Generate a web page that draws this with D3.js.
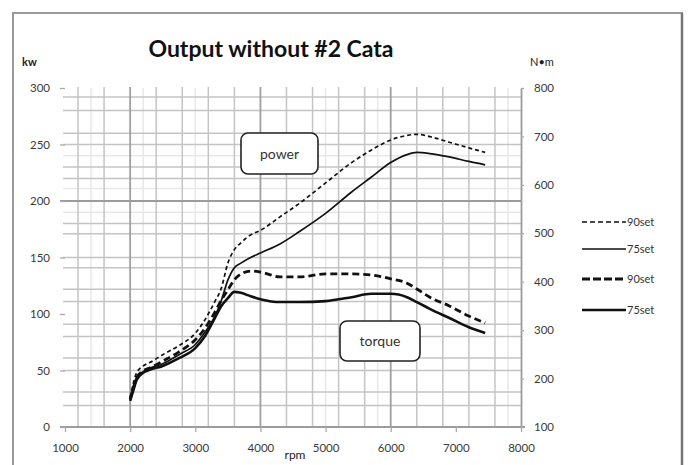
<!DOCTYPE html>
<html>
<head>
<meta charset="utf-8">
<script src="https://cdn.jsdelivr.net/npm/d3@7"></script>
<style>
  html, body { margin: 0; padding: 0; background: #fff; }
  svg { display: block; }
  text { font-family: Lato, "Open Sans", sans-serif; }
</style>
</head>
<body>
<svg id="chart" width="688" height="465"></svg>
<script>
// Engine speed samples (rpm)
const rpm = [2000, 2050, 2100, 2200, 2300, 2500, 2750, 3000, 3150, 3300, 3400, 3500, 3600, 3700,
             3850, 4000, 4300, 4600, 5000, 5400, 5700, 6000, 6250, 6400, 6600, 6900, 7200, 7450];

// Power (kW)
const power90 = [26, 39, 48, 54, 57, 64, 72, 83, 95, 111, 123, 145, 157, 163,
                 170, 174, 186, 198, 216, 234, 245, 254, 258, 259, 257, 252, 247, 243];
const power75 = [24, 36, 44, 49, 52, 56, 64, 73, 84, 98, 112, 130, 141, 145,
                 150, 154, 162, 173, 189, 208, 221, 234, 241, 243, 242, 239, 235, 232];

// Torque (N·m)
const torque90 = [158, 181, 201, 216, 222, 236, 255, 280, 304, 337, 362, 383, 404, 416,
                  422, 420, 410, 410, 416, 416, 414, 406, 397, 385, 368, 350, 329, 315];
const torque75 = [154, 176, 197, 212, 218, 226, 242, 263, 288, 325, 350, 366, 379, 377,
                  370, 364, 358, 358, 360, 368, 375, 375, 368, 358, 344, 325, 306, 294];

const seriesNames = ["90set", "75set", "90set", "75set"];

// Axis ticks
const rpmTicks = [1000, 2000, 3000, 4000, 5000, 6000, 7000, 8000];
const kwTicks = [0, 50, 100, 150, 200, 250, 300];
const nmTicks = [100, 200, 300, 400, 500, 600, 700, 800];

// Grid lines
const rpmGrid = [1200, 1600, 2000, 2400, 2800, 3200, 3600, 4000, 4400, 4800, 5200, 5600, 6000, 6400, 6800, 7200, 7600];
const rpmGridMajor = [2000, 4000, 6000];
const rpmGridFaint = [1400, 2200, 3000, 5000, 5800, 7800];
const kwGrid = [19, 31, 50, 61, 80, 91, 111, 122, 141, 150, 171, 180, 220, 230, 250, 260, 280, 292];
const kwGridMajor = [200];
const kwGridFaint = [190, 211, 240];

const svg = d3.select("#chart");

// Outer frame
svg.append("rect")
  .attr("x", 13).attr("y", 13).attr("width", 669).attr("height", 470)
  .attr("fill", "#fff").attr("stroke", "#9a9a9a").attr("stroke-width", 2);
svg.append("line")
  .attr("x1", 682).attr("x2", 682).attr("y1", 13).attr("y2", 465)
  .attr("stroke", "#777").attr("stroke-width", 2.5);

const x = d3.scaleLinear().domain([1000, 8000]).range([65, 521]);
const yKw = d3.scaleLinear().domain([0, 300]).range([427, 88]);
const yNm = d3.scaleLinear().domain([100, 800]).range([427, 88]);

const grid = svg.append("g");

grid.selectAll("line.vf").data(rpmGridFaint).join("line")
  .attr("x1", d => x(d)).attr("x2", d => x(d))
  .attr("y1", 88).attr("y2", 427)
  .attr("stroke", "#e8e8e8").attr("stroke-width", 1.5);

grid.selectAll("line.hf").data(kwGridFaint).join("line")
  .attr("x1", 63).attr("x2", x(8000))
  .attr("y1", d => yKw(d)).attr("y2", d => yKw(d))
  .attr("stroke", "#e8e8e8").attr("stroke-width", 1.5);

grid.selectAll("line.h").data(kwGrid).join("line")
  .attr("x1", 63).attr("x2", x(8000))
  .attr("y1", d => yKw(d)).attr("y2", d => yKw(d))
  .attr("stroke", "#c4c4c4").attr("stroke-width", 1.5);

grid.selectAll("line.v").data(rpmGrid).join("line")
  .attr("x1", d => x(d)).attr("x2", d => x(d))
  .attr("y1", 87).attr("y2", 427)
  .attr("stroke", d => rpmGridMajor.includes(d) ? "#a0a0a0" : "#c4c4c4")
  .attr("stroke-width", d => rpmGridMajor.includes(d) ? 1.8 : 1.5);

grid.selectAll("line.hm").data(kwGridMajor).join("line")
  .attr("x1", 60).attr("x2", x(8000))
  .attr("y1", d => yKw(d)).attr("y2", d => yKw(d))
  .attr("stroke", "#9c9c9c").attr("stroke-width", 2);

// Axes
const axisStyle = g => {
  g.selectAll(".domain").attr("stroke", "#9c9c9c").attr("stroke-width", 1.8);
  g.selectAll(".tick line").attr("stroke", "#aaa").attr("stroke-width", 1.3);
  g.selectAll(".tick text").attr("fill", "#3a3a3a").attr("font-size", 11.5);
};

svg.append("g")
  .attr("transform", "translate(0,427)")
  .call(d3.axisBottom(x).tickValues(rpmTicks).tickFormat(d3.format("d")).tickSize(5).tickSizeOuter(0).tickPadding(12))
  .call(axisStyle)
  .call(g => g.select(".domain").attr("d", "M60,0H525"));

svg.append("g")
  .attr("transform", "translate(65,0)")
  .call(d3.axisLeft(yKw).tickValues(kwTicks).tickSize(5).tickSizeOuter(0).tickPadding(10))
  .call(axisStyle)
  .call(g => g.select(".domain").remove());

svg.append("g")
  .attr("transform", `translate(${x(8000)},0)`)
  .call(d3.axisRight(yNm).tickValues(nmTicks).tickSize(3).tickSizeOuter(0).tickPadding(10))
  .call(axisStyle);

// Axis titles and chart title
svg.append("text").attr("x", 22).attr("y", 66)
  .attr("font-size", 11).attr("font-weight", 700).attr("fill", "#222").text("kw");
svg.append("text").attr("x", 530).attr("y", 66)
  .attr("font-size", 11).attr("fill", "#222").text("N•m");
svg.append("text").attr("x", 295).attr("y", 459)
  .attr("text-anchor", "middle").attr("font-size", 12).attr("fill", "#222").text("rpm");
svg.append("text").attr("x", 271).attr("y", 57)
  .attr("text-anchor", "middle").attr("font-size", 23).attr("font-weight", 700)
  .attr("fill", "#111").text("Output without #2 Cata");

// Curves
const series = [
  { name: seriesNames[0], values: power90, y: yKw, width: 1.7, dash: "4,3" },
  { name: seriesNames[1], values: power75, y: yKw, width: 1.7, dash: null },
  { name: seriesNames[2], values: torque90, y: yNm, width: 2.8, dash: "7,4" },
  { name: seriesNames[3], values: torque75, y: yNm, width: 2.6, dash: null }
];

const plot = svg.append("g");
series.forEach(s => {
  const line = d3.line()
    .x((d, i) => x(rpm[i]))
    .y(d => s.y(d))
    .curve(d3.curveMonotoneX);
  plot.append("path")
    .datum(s.values)
    .attr("d", line)
    .attr("fill", "none")
    .attr("stroke", "#111")
    .attr("stroke-width", s.width)
    .attr("stroke-linejoin", "round")
    .attr("stroke-dasharray", s.dash);
});

// Callout boxes
const callouts = [
  { label: "power", x0: 241, y0: 133, w: 77, h: 41 },
  { label: "torque", x0: 340, y0: 321, w: 80, h: 40 }
];
callouts.forEach(c => {
  svg.append("rect")
    .attr("x", c.x0).attr("y", c.y0).attr("width", c.w).attr("height", c.h)
    .attr("rx", 7).attr("fill", "#fff").attr("stroke", "#222").attr("stroke-width", 1.6);
  svg.append("text")
    .attr("x", c.x0 + c.w / 2).attr("y", c.y0 + c.h / 2 + 5)
    .attr("text-anchor", "middle").attr("font-size", 14).attr("fill", "#333")
    .text(c.label);
});

// Legend
const legend = svg.append("g");
const legendY = [222, 249, 279, 310];
series.forEach((s, i) => {
  legend.append("line")
    .attr("x1", 582).attr("x2", 626)
    .attr("y1", legendY[i]).attr("y2", legendY[i])
    .attr("stroke", "#111")
    .attr("stroke-width", s.width)
    .attr("stroke-dasharray", s.dash ? (s.width > 2 ? "8,3" : "5,3") : null);
  legend.append("text")
    .attr("x", 627).attr("y", legendY[i] + 4)
    .attr("font-size", 11).attr("fill", "#333")
    .text(s.name);
});
</script>
</body>
</html>
